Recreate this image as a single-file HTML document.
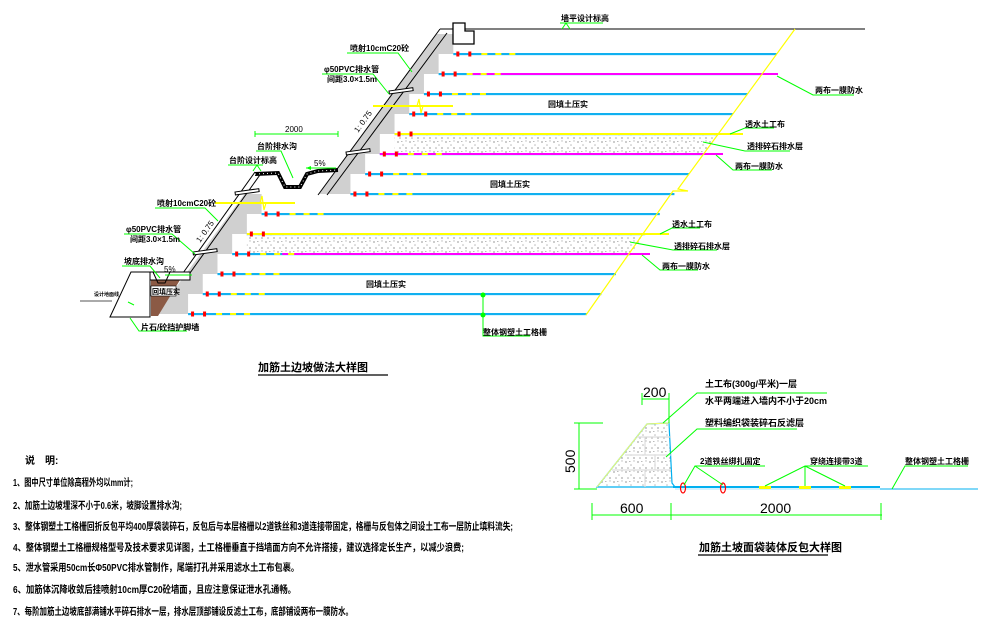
<!DOCTYPE html>
<html><head><meta charset="utf-8">
<style>
html,body{margin:0;padding:0;background:#fff;}
svg{display:block;}
text{font-family:"Liberation Sans","Noto Sans CJK SC",sans-serif;font-weight:bold;fill:#000;}
.s{font-size:8px;}
.n{font-size:10px;}
.d{font-size:14px;font-weight:normal;}
</style></head>
<body>
<svg id="sv" width="985" height="623" viewBox="0 0 985 623" xmlns="http://www.w3.org/2000/svg">
<defs>
<pattern id="gr" width="12" height="10" patternUnits="userSpaceOnUse">
<rect width="12" height="10" fill="#fff"/>
<circle cx="2" cy="2" r="0.9" fill="#aaa"/><circle cx="7" cy="5" r="0.8" fill="#bbb"/>
<circle cx="4" cy="8" r="0.8" fill="#aaa"/><circle cx="10" cy="1" r="0.7" fill="#bbb"/>
<circle cx="10" cy="8" r="0.9" fill="#aaa"/><rect x="5" y="1" width="1.5" height="1" fill="#bbb"/>
</pattern>
</defs>
<g id="layers"></g>
<line x1="440" y1="29" x2="865" y2="29" stroke="#000" stroke-width="1"/>
<polygon points="453,23 465,23 465,31 474,31 474,44 453,44" fill="#fff" stroke="#000" stroke-width="1.3"/>
<polyline points="795,29 678,189 688,191 673,191 586,315" fill="none" stroke="#ffff00" stroke-width="1.2"/>
<line x1="440" y1="29" x2="318" y2="195" stroke="#000" stroke-width="1"/>
<line x1="447" y1="33" x2="327" y2="195" stroke="#000" stroke-width="1"/>
<line x1="255" y1="172" x2="183" y2="273" stroke="#000" stroke-width="1"/>
<line x1="262" y1="172" x2="190" y2="273" stroke="#000" stroke-width="1"/>
<polyline points="255,174 278,173 285,187 300,187 307,174 318,171 338,170" fill="none" stroke="#000" stroke-width="4"/>
<polyline points="255,174 278,173 285,187 300,187 307,174 318,171 338,170" fill="none" stroke="#fff" stroke-width="1" stroke-dasharray="1 3"/>
<g stroke="#000" stroke-width="1" fill="#fff">
<rect x="389" y="91" width="24" height="3" transform="rotate(-8 389 91)"/>
<rect x="346" y="152" width="24" height="3" transform="rotate(-8 346 152)"/>
<rect x="235" y="192" width="24" height="3" transform="rotate(-8 235 192)"/>
<rect x="193" y="252" width="24" height="3" transform="rotate(-8 193 252)"/>
</g>
<line x1="373" y1="106" x2="453" y2="106" stroke="#ffff00" stroke-width="2"/>
<polyline points="417,106 419,99 421,113 423,106" fill="none" stroke="#ffff00" stroke-width="1.2"/>
<line x1="215" y1="203" x2="295" y2="203" stroke="#ffff00" stroke-width="2"/>
<polyline points="260,203 262,196 264,210 266,203" fill="none" stroke="#ffff00" stroke-width="1.2"/>
<polygon points="110,317 131,272 150,272 150,317" fill="#fff" stroke="#000" stroke-width="1"/>
<polygon points="151,280 180,280 158,316 151,316" fill="#8b5a45"/>
<rect x="150" y="272" width="40" height="8" fill="#fff" stroke="#000" stroke-width="1"/>
<polyline points="150,272 150,317" stroke="#000"/>
<polyline points="153,272 158,283 165,283 170,272" fill="none" stroke="#000" stroke-width="1"/>
<rect x="151" y="286" width="25" height="10" fill="#fff" stroke="#000" stroke-width="0.6"/>
<text class="s" x="152" y="294" style="font-size:7px">回填压实</text>
<line x1="80" y1="301" x2="112" y2="301" stroke="#555" stroke-width="1"/>
<text x="94" y="296" style="font-size:5px">设计地面线</text>

<g stroke="#00ff00" stroke-width="1" fill="none">
<line x1="560" y1="23" x2="603" y2="23"/><polyline points="562,29 566,23 570,29"/>
<polyline points="777,76 813,95 854,95"/>
<polyline points="730,134 745,128 774,128"/>
<polyline points="703,142 745,151 790,151"/>
<polyline points="716,155 733,170 772,170"/>
<polyline points="660,234 672,228 700,228"/>
<polyline points="630,242 673,250 717,250"/>
<polyline points="642,255 660,270 698,270"/>
<polyline points="483,295 483,336 530,336"/>
<polyline points="347,53 398,53 412,72"/>
<polyline points="322,74 373,74 389,94"/>
<line x1="255" y1="134" x2="338" y2="134"/>
<line x1="255" y1="131" x2="255" y2="137"/><line x1="338" y1="131" x2="338" y2="137"/>
<polyline points="256,151 281,151 293,178"/>
<polyline points="228,165 263,165"/><polyline points="253,171 257,165 261,171"/>
<polyline points="306,168 336,168"/>
<polyline points="155,208 205,208 218,221"/>
<polyline points="124,234 172,234 195,254"/>
<polyline points="122,266 150,266 160,278"/>
<polyline points="165,275 192,275"/>
<polyline points="128,302 134,305"/>
<polyline points="130,318 139,331 187,331"/>
</g>
<g fill="#00ff00">
<circle cx="483" cy="295" r="2.5"/><circle cx="483" cy="315" r="2.5"/>
<polygon points="306,168 311,166 311,170"/>
</g>
<text class="s" x="561" y="21">墙平设计标高</text>
<text class="s" x="815" y="93">两布一膜防水</text>
<text class="s" x="548" y="107">回填土压实</text>
<text class="s" x="745" y="127">透水土工布</text>
<text class="s" x="747" y="149">透排碎石排水层</text>
<text class="s" x="735" y="169">两布一膜防水</text>
<text class="s" x="490" y="187">回填土压实</text>
<text class="s" x="672" y="227">透水土工布</text>
<text class="s" x="674" y="249">透排碎石排水层</text>
<text class="s" x="662" y="269">两布一膜防水</text>
<text class="s" x="366" y="287">回填土压实</text>
<text class="s" x="483" y="335">整体钢塑土工格栅</text>
<text class="s" x="350" y="51">喷射10cmC20砼</text>
<text class="s" x="324" y="72">φ50PVC排水管</text>
<text class="s" x="327" y="82">间距3.0×1.5m</text>
<text class="s" x="285" y="132" style="font-weight:normal">2000</text>
<text class="s" x="257" y="149">台阶排水沟</text>
<text class="s" x="229" y="163">台阶设计标高</text>
<text class="s" x="314" y="166" style="font-weight:normal">5%</text>
<text class="s" x="157" y="206">喷射10cmC20砼</text>
<text class="s" x="126" y="232">φ50PVC排水管</text>
<text class="s" x="130" y="242">间距3.0×1.5m</text>
<text class="s" x="124" y="264">坡底排水沟</text>
<text class="s" x="164" y="272" style="font-weight:normal">5%</text>
<text class="s" x="141" y="330">片石/砼挡护脚墙</text>
<text class="s" x="0" y="0" transform="translate(358,133) rotate(-54)" style="font-weight:normal">1: 0.75</text>
<text class="s" x="0" y="0" transform="translate(200,243) rotate(-54)" style="font-weight:normal">1: 0.75</text>
<text x="258" y="371" style="font-size:11px">加筋土边坡做法大样图</text>
<line x1="258" y1="375" x2="388" y2="375" stroke="#000" stroke-width="1.2"/>

<polygon points="597,487 647,424 669,423 672,483 675,487" fill="url(#gr)" stroke="#00b0f0" stroke-width="1.2"/>
<polyline points="597,487 647,424 669,423" fill="none" stroke="#ffff66" stroke-width="1"/>
<g stroke="#ddd" stroke-width="1.2" fill="none">
<line x1="637" y1="437" x2="671" y2="437"/><line x1="625" y1="455" x2="671" y2="455"/>
<line x1="612" y1="470" x2="671" y2="470"/><line x1="645" y1="437" x2="645" y2="455"/>
<line x1="645" y1="470" x2="645" y2="487"/><line x1="655" y1="455" x2="655" y2="470"/>
</g>
<line x1="673" y1="487" x2="880" y2="487" stroke="#00b0f0" stroke-width="2"/>
<line x1="880" y1="489" x2="978" y2="489" stroke="#00b0f0" stroke-width="1"/>
<line x1="675" y1="489" x2="880" y2="489" stroke="#a8e4ff" stroke-width="1"/>
<g fill="none" stroke="#f00" stroke-width="1.2">
<ellipse cx="683" cy="488" rx="2.5" ry="5"/><ellipse cx="723" cy="488" rx="2.5" ry="5"/>
</g>
<g fill="#ffff00"><rect x="759" y="486" width="12" height="3"/><rect x="799" y="486" width="12" height="3"/><rect x="839" y="486" width="12" height="3"/></g>
<g stroke="#00ff00" stroke-width="1" fill="none">
<polyline points="663,423 697,393 827,393"/>
<polyline points="666,457 697,429 797,429"/>
<polyline points="684,485 695,466 765,466"/><line x1="695" y1="466" x2="723" y2="485"/>
<polyline points="765,486 805,466 868,466"/><line x1="805" y1="466" x2="805" y2="486"/><line x1="805" y1="466" x2="845" y2="486"/>
<polyline points="892,489 905,466 968,466"/>
<line x1="642" y1="399" x2="669" y2="399"/><line x1="642" y1="393" x2="642" y2="405"/><line x1="669" y1="393" x2="669" y2="423"/>
<line x1="579" y1="423" x2="579" y2="489"/><line x1="574" y1="423" x2="603" y2="423"/><line x1="574" y1="489" x2="597" y2="489"/>
<line x1="592" y1="515" x2="882" y2="515"/><line x1="592" y1="503" x2="592" y2="520"/>
<line x1="671" y1="503" x2="671" y2="520"/><line x1="881" y1="503" x2="881" y2="520"/>
</g>
<text class="d" x="643" y="397">200</text>
<text class="s" x="705" y="387" style="font-size:9px">土工布(300g/平米)一层</text>
<text class="s" x="705" y="404" style="font-size:9px">水平两端进入墙内不小于20cm</text>
<text class="s" x="705" y="426" style="font-size:9px">塑料编织袋装碎石反滤层</text>
<text class="s" x="700" y="464">2道铁丝绑扎固定</text>
<text class="s" x="810" y="464">穿绕连接带3道</text>
<text class="s" x="905" y="464">整体钢塑土工格栅</text>
<text class="d" x="0" y="0" transform="translate(575,473) rotate(-90)">500</text>
<text class="d" x="620" y="513">600</text>
<text class="d" x="760" y="513">2000</text>
<text x="699" y="551" style="font-size:11px">加筋土坡面袋装体反包大样图</text>
<line x1="698" y1="555" x2="828" y2="555" stroke="#000" stroke-width="1.2"/>

<text class="n" x="25" y="464">说　明:</text>
<text class="n" x="13" y="486" textLength="120" lengthAdjust="spacingAndGlyphs">1、图中尺寸单位除高程外均以mm计;</text>
<text class="n" x="13" y="509" textLength="169" lengthAdjust="spacingAndGlyphs">2、加筋土边坡埋深不小于0.6米，坡脚设置排水沟;</text>
<text class="n" x="13" y="530" textLength="500" lengthAdjust="spacingAndGlyphs">3、整体钢塑土工格栅回折反包平均400厚袋装碎石，反包后与本层格栅以2道铁丝和3道连接带固定，格栅与反包体之间设土工布一层防止填料流失;</text>
<text class="n" x="13" y="551" textLength="451" lengthAdjust="spacingAndGlyphs">4、整体钢塑土工格栅规格型号及技术要求见详图，土工格栅垂直于挡墙面方向不允许搭接，建议选择定长生产，以减少浪费;</text>
<text class="n" x="13" y="571" textLength="286" lengthAdjust="spacingAndGlyphs">5、泄水管采用50cm长Φ50PVC排水管制作，尾端打孔并采用滤水土工布包裹。</text>
<text class="n" x="13" y="593" textLength="283" lengthAdjust="spacingAndGlyphs">6、加筋体沉降收敛后挂喷射10cm厚C20砼墙面，且应注意保证泄水孔通畅。</text>
<text class="n" x="13" y="615" textLength="340" lengthAdjust="spacingAndGlyphs">7、每阶加筋土边坡底部满铺水平碎石排水一层，排水层顶部铺设反滤土工布，底部铺设两布一膜防水。</text>
</svg>
<script>
(function(){
var g=document.getElementById('layers'),NS='http://www.w3.org/2000/svg';
function el(t,a){var e=document.createElementNS(NS,t);for(var k in a)e.setAttribute(k,a[k]);g.appendChild(e);return e;}
function fu(y){return 440-0.735*(y-29);}
function fl(y){return 260-0.735*(y-173);}
function yl(y){return 795-(y-29)*0.7308;}
function sxOf(i){var y=54+20*i;return (i<8?fu(y-20):fl(y-20))+17;}
[[134,154,4],[234,254,9]].forEach(function(p){
 var sx=sxOf(p[2]);
 el('polygon',{points:(sx)+','+p[0]+' '+yl(p[0])+','+p[0]+' '+yl(p[1])+','+p[1]+' '+sx+','+p[1],fill:'url(#gr)'});
});
for(var i=0;i<14;i++){
 var y=54+20*i,yt=y-20,f=(i<8?fu:fl),f0=f(yt),f1=f(y),sx=f0+17;
 el('polygon',{points:f0+','+yt+' '+sx+','+yt+' '+sx+','+y+' '+f1+','+y,fill:'#d0d0d0'});
 var xe=yl(y);
 el('line',{x1:sx,y1:y+1,x2:xe,y2:y+1,stroke:'#b0e8ff','stroke-width':1});
 el('line',{x1:sx,y1:y,x2:xe,y2:y,stroke:'#10b0f0','stroke-width':2});
 if(y==74)el('line',{x1:sx+30,y1:y,x2:778,y2:y,stroke:'#ff00ff','stroke-width':2});
 if(y==154)el('line',{x1:sx,y1:y,x2:723,y2:y,stroke:'#ff00ff','stroke-width':2});
 if(y==254)el('line',{x1:sx+50,y1:y,x2:650,y2:y,stroke:'#ff00ff','stroke-width':2});
 if(y==134)el('line',{x1:sx,y1:y,x2:743,y2:y,stroke:'#ffff00','stroke-width':2});
 if(y==234)el('line',{x1:sx,y1:y,x2:669,y2:y,stroke:'#ffff00','stroke-width':2});
 el('rect',{x:sx+3,y:y-2.5,width:3,height:5,fill:'#f00'});
 el('rect',{x:sx+15,y:y-2.5,width:3,height:5,fill:'#f00'});
 for(var k=0;k<3;k++)el('rect',{x:sx+28+k*14,y:y-1,width:6,height:2,fill:'#ffff00'});
}
})();
</script>
</body></html>
